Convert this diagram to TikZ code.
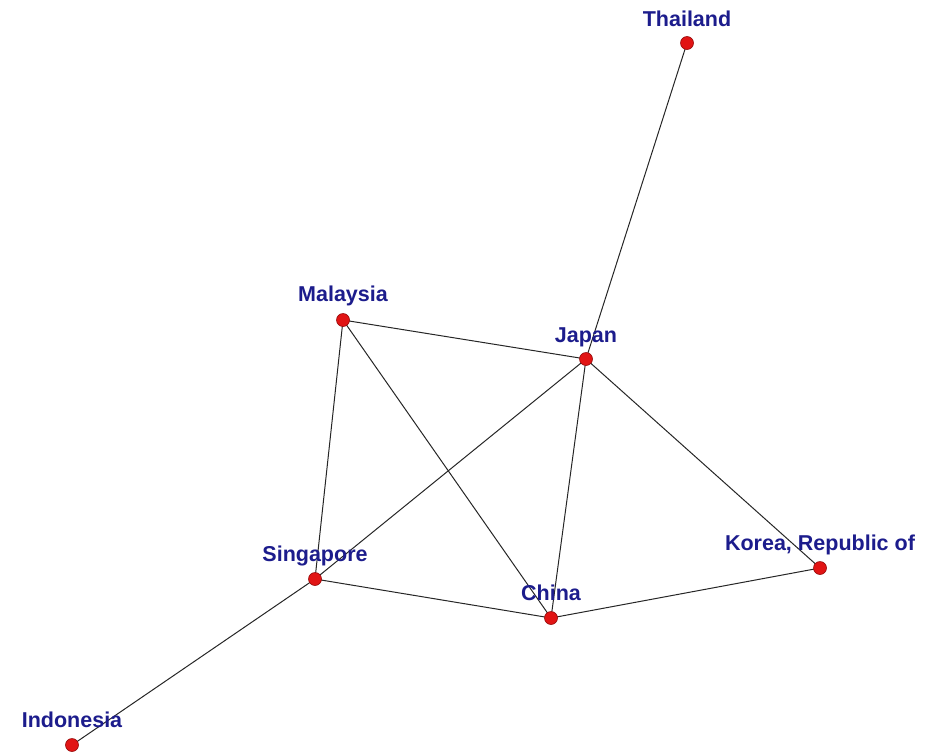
\documentclass[tikz,border=0pt]{standalone}
\usepackage{fontspec}
\setmainfont{Liberation Sans}
\definecolor{lblblue}{RGB}{28,28,140}
\definecolor{dotred}{RGB}{225,20,20}
\definecolor{dotedge}{RGB}{150,10,10}
\begin{document}
\begin{tikzpicture}[x=1pt,y=-1pt,
  vert/.style={circle,fill=dotred,draw=dotedge,line width=0.6pt,inner sep=0pt,minimum size=13pt},
  lbl/.style={anchor=base,text=lblblue,font=\fontsize{21.5}{21.5}\selectfont\bfseries,inner sep=0pt},
  edge/.style={draw=black!85,line width=1pt}]
\useasboundingbox (0,0) rectangle (942,755);
\coordinate (pThailand) at (687,43);
\coordinate (pMalaysia) at (343,320);
\coordinate (pJapan) at (586,359);
\coordinate (pSingapore) at (315,579);
\coordinate (pChina) at (551,618);
\coordinate (pKorea) at (820,568);
\coordinate (pIndonesia) at (72,745);
\draw[edge] (pThailand) -- (pJapan);
\draw[edge] (pMalaysia) -- (pJapan);
\draw[edge] (pMalaysia) -- (pSingapore);
\draw[edge] (pMalaysia) -- (pChina);
\draw[edge] (pJapan) -- (pSingapore);
\draw[edge] (pJapan) -- (pChina);
\draw[edge] (pJapan) -- (pKorea);
\draw[edge] (pSingapore) -- (pChina);
\draw[edge] (pChina) -- (pKorea);
\draw[edge] (pSingapore) -- (pIndonesia);
\node[vert] (Thailand) at (pThailand) {};
\node[vert] (Malaysia) at (pMalaysia) {};
\node[vert] (Japan) at (pJapan) {};
\node[vert] (Singapore) at (pSingapore) {};
\node[vert] (China) at (pChina) {};
\node[vert] (Korea) at (pKorea) {};
\node[vert] (Indonesia) at (pIndonesia) {};
\node[lbl] (lThailand) at ([yshift=17pt]pThailand) {Thailand};
\node[lbl] (lMalaysia) at ([yshift=19pt]pMalaysia) {Malaysia};
\node[lbl] (lJapan) at ([yshift=17pt]pJapan) {Japan};
\node[lbl] (lSingapore) at ([yshift=18pt]pSingapore) {Singapore};
\node[lbl] (lChina) at ([yshift=18pt]pChina) {China};
\node[lbl] (lKorea) at ([yshift=18pt]pKorea) {Korea, Republic of};
\node[lbl] (lIndonesia) at ([yshift=18pt]pIndonesia) {Indonesia};
\end{tikzpicture}
\end{document}
